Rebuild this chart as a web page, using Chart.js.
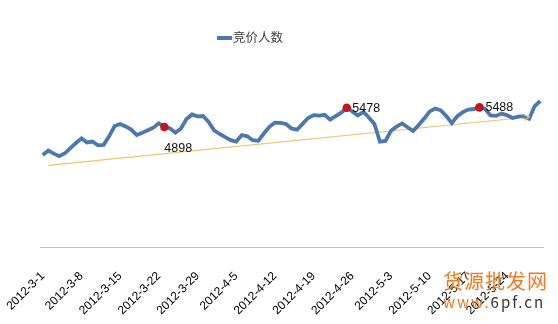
<!DOCTYPE html>
<html>
<head>
<meta charset="utf-8">
<script src="https://cdn.jsdelivr.net/npm/chart.js@4.4.0/dist/chart.umd.min.js"></script>
<style>
  html, body { margin: 0; padding: 0; background: #fff; }
  #wrap { position: relative; width: 558px; height: 324px; }
  #legend {
    position: absolute; left: 217px; top: 28px;
    font: 12.5px "Noto Sans CJK SC", sans-serif; color: #404040;
    white-space: nowrap; line-height: 18px;
  }
  #legend .swatch {
    display: inline-block; width: 15px; height: 4px; background: #4A78B0;
    vertical-align: middle; margin-right: 1px; margin-top: -2px;
  }
  #mark {
    position: absolute; left: 443px; top: 268px; white-space: nowrap;
    font-family: "Noto Sans CJK SC", sans-serif; color: #EE7A22;
  }
  #mark .cn { font-size: 20px; letter-spacing: 1px; line-height: 26px; }
  #mark .url { font-size: 15px; letter-spacing: 2px; line-height: 16px; }
  #mark .url b { font-weight: normal; color: #333; }
</style>
</head>
<body>
<div id="wrap">
  <canvas id="chart" width="558" height="324"></canvas>
  <div id="legend"><span class="swatch"></span>竞价人数</div>
  <div id="mark"><div class="cn">货源批发网</div><div class="url">www.<b>6pf.cn</b></div></div>
</div>
<script>
// daily bidder counts, 2012-3-1 .. 2012-5-30
const startYear = 2012, startMonth = 3, startDay = 1, dayCount = 91;
const bidders = [
  4060, 4195, 4102, 4024, 4111, 4267, 4420, 4555, 4438, 4465,
  4351, 4363, 4618, 4930, 4990, 4918, 4822, 4660, 4726, 4801,
  4879, 5011, 4898, 4861, 4729, 4858, 5137, 5275, 5218, 5230,
  5053, 4798, 4690, 4594, 4507, 4465, 4660, 4621, 4504, 4486,
  4705, 4906, 5032, 5026, 4990, 4855, 4819, 4993, 5170, 5257,
  5239, 5266, 5119, 5230, 5329, 5478, 5365, 5245, 5353, 5185,
  4993, 4459, 4480, 4786, 4909, 5008, 4894, 4780, 4960, 5152,
  5368, 5452, 5401, 5227, 5017, 5227, 5347, 5425, 5440, 5488,
  5449, 5245, 5233, 5302, 5254, 5170, 5209, 5224, 5146, 5527,
  5680
];
const markedIdx = [22, 55, 79];
const trendIdx = [1, 88];
const trendVals = [3751, 5200];
const yMin = 1300, yMax = 7360;

// category labels
const days = [];
let d = new Date(startYear, startMonth - 1, startDay);
for (let i = 0; i < dayCount; i++) {
  days.push(d.getFullYear() + "-" + (d.getMonth() + 1) + "-" + d.getDate());
  d.setDate(d.getDate() + 1);
}

const trendData = days.map(() => null);
trendIdx.forEach((idx, k) => { trendData[idx] = trendVals[k]; });

const radii = bidders.map((v, i) => (markedIdx.indexOf(i) >= 0 ? 4.3 : 0));

// label offsets from the marked point (px)
const labelOffsets = [[0, 21], [5.5, 0.5], [6, 0.5]];

const pointLabels = {
  id: "pointLabels",
  afterDatasetsDraw(chart) {
    const ctx = chart.ctx;
    const pts = chart.getDatasetMeta(0).data;
    ctx.save();
    ctx.font = '12.5px "Liberation Sans"';
    ctx.fillStyle = "#111";
    ctx.textBaseline = "middle";
    ctx.textAlign = "left";
    markedIdx.forEach(function (idx, k) {
      const p = pts[idx];
      ctx.fillText(String(bidders[idx]), p.x + labelOffsets[k][0], p.y + labelOffsets[k][1]);
    });
    // open arrow at the trend end
    const tp = chart.getDatasetMeta(1).data;
    const a = tp[trendIdx[0]], b = tp[trendIdx[1]];
    const ang = Math.atan2(b.y - a.y, b.x - a.x);
    ctx.strokeStyle = "#F0C46A";
    ctx.lineWidth = 1.2;
    ctx.beginPath();
    ctx.moveTo(b.x - 6 * Math.cos(ang - 0.5), b.y - 6 * Math.sin(ang - 0.5));
    ctx.lineTo(b.x, b.y);
    ctx.lineTo(b.x - 6 * Math.cos(ang + 0.5), b.y - 6 * Math.sin(ang + 0.5));
    ctx.stroke();
    ctx.restore();
  }
};

new Chart("chart", {
  type: "line",
  data: {
    labels: days,
    datasets: [
      {
        label: "竞价人数",
        data: bidders,
        borderColor: "#4A78B0",
        borderWidth: 3.8,
        tension: 0,
        pointRadius: radii,
        pointHoverRadius: radii,
        pointBackgroundColor: "#C8141E",
        pointBorderColor: "#C8141E",
        pointBorderWidth: 0,
        order: 1
      },
      {
        label: "trend",
        data: trendData,
        spanGaps: true,
        borderColor: "#F0C46A",
        borderWidth: 1.2,
        pointRadius: 0,
        order: 2
      }
    ]
  },
  options: {
    responsive: false,
    animation: false,
    layout: { padding: { left: 40, right: 15, top: 45, bottom: 0 } },
    plugins: {
      legend: { display: false },
      tooltip: { enabled: false }
    },
    scales: {
      x: {
        offset: true,
        grid: { display: false, drawTicks: false },
        border: { display: true, color: "#BFBFBF", width: 1 },
        afterFit: function (scale) {
          // let layout padding decide the plot edges, fixed label band height
          scale.paddingLeft = 0;
          scale.paddingRight = 0;
          scale.height = 77;
        },
        ticks: {
          autoSkip: false,
          minRotation: 45,
          maxRotation: 45,
          padding: 22,
          color: "#000",
          font: { family: "Liberation Sans", size: 12 },
          callback: function (value, index) {
            return index % 7 === 0 ? days[index] : "";
          }
        }
      },
      y: {
        display: false,
        min: yMin,
        max: yMax
      }
    }
  },
  plugins: [pointLabels]
});
</script>
</body>
</html>
